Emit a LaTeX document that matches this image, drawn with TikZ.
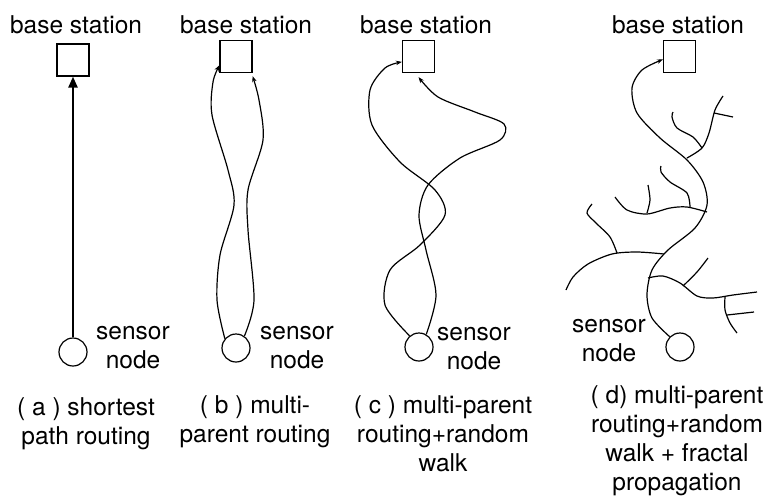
\documentclass[tikz,border=0pt]{standalone}
\usepackage{fontspec}
\setmainfont{TeX Gyre Heros}
\usepackage{tikz}
\usetikzlibrary{arrows.meta,calc}
\tikzset{
  station/.style={
    draw,
    line width=1.2pt,
    minimum size=32pt,
    inner sep=0pt
  },
  sensor/.style={
    draw,
    circle,
    line width=1.2pt,
    minimum size=28pt,
    inner sep=0pt
  },
  label/.style={
    align=center,
    inner sep=0pt,
    font=\fontsize{24.5}{29}\selectfont
  },
  arrow/.style={
    -{Stealth[length=6pt,width=4.5pt]},
    line width=1.2pt
  },
  bold arrow/.style={
    -{Triangle[length=11pt,width=9pt]},
    line width=2.4pt
  },
  branch/.style={
    line width=1.2pt
  }
}
\begin{document}
\begin{tikzpicture}[x=1pt,y=-1pt]
\useasboundingbox (0,0) rectangle (768,499);
% base stations
\node[label,anchor=base] (ta) at (76,33) {base station};
\node[label,anchor=base] (tb) at (246,33) {base station};
\node[label,anchor=base] (tc) at (426,33) {base station};
\node[label,anchor=base] (td) at (678,33) {base station};
\node[station] (bsa) at (73,60) {};
\node[station] (bsb) at (236,56.5) {};
\node[station] (bsc) at (418.5,56.5) {};
\node[station] (bsd) at (679.5,56.5) {};
% sensor nodes
\node[sensor] (sna) at (73,352) {};
\node[sensor] (snb) at (236,348) {};
\node[sensor] (snc) at (419,347) {};
\node[sensor] (snd) at (680,347) {};
\node[label] (la) at (133,348) {sensor\\node};
\node[label] (lb) at (297,348) {sensor\\node};
\node[label] (lc) at (474,349) {sensor\\node};
\node[label] (ld) at (609,341) {sensor\\node};
% captions
\node[label] (ca) at (86,424) {( a ) shortest\\path routing};
\node[label] (cb) at (255,422) {( b ) multi-\\parent routing};
\node[label] (cc) at (443,433.5) {( c ) multi-parent\\routing+random\\walk};
\node[label] (cd) at (677,441) {( d) multi-parent\\routing+random\\walk + fractal\\propagation};
% (a)
\draw[bold arrow] (sna) -- (bsa);
% (b)
\draw[arrow] plot[smooth] coordinates {(snb.140) (217,300) (220,255) (234,205) (228,170) (212,115) (213,82) (bsb.208)};
\draw[arrow] plot[smooth] coordinates {(snb.55) (254,300) (248,230) (248,190) (263,140) (259,100) ([yshift=-3pt]bsb.south east)};
% (c)
\draw[arrow] plot[smooth] coordinates {(snc.130) (385,305) (390,270) (420,245) (445,215) (435,190) (400,162) (372,125) (370,90) (385,68) (bsc.198)};
\draw[arrow] plot[smooth] coordinates {(snc.60) (436,295) (426,250) (419,215) (428,185) (460,158) (500,140) (504,124) (475,112) (438,97) ([yshift=-4pt]bsc.south)};
% (d)
\draw[arrow] plot[smooth] coordinates {(snd.135) (652,318) (647,295) (652,270) (668,250) (695,228) (707,205) (703,182) (687,160) (660,138) (637,113) (632,88) (642,70) (bsd.190)};
\draw[branch] plot[smooth] coordinates {(687,158) (702,148) (709,133) (715,110) (723,96)};
\draw[branch] plot[smooth] coordinates {(714,113) (733,117)};
\draw[branch] plot[smooth] coordinates {(702,148) (693,137) (677,128) (672,117) (673,112)};
\draw[branch] plot[smooth] coordinates {(707,212) (687,207) (670,208) (647,214) (627,210) (615,197)};
\draw[branch] plot[smooth] coordinates {(690,207) (687,193) (670,182) (661,172) (661,166)};
\draw[branch] plot[smooth] coordinates {(647,213) (650,200) (648,185)};
\draw[branch] plot[smooth] coordinates {(664,254) (637,252) (612,254) (588,264) (573,277) (566,290)};
\draw[branch] plot[smooth] coordinates {(617,253) (610,237) (596,223) (587,213) (592,204)};
\draw[branch] plot[smooth] coordinates {(648,278) (663,276) (680,283) (697,296) (713,298) (733,295) (757,292)};
\draw[branch] plot[smooth] coordinates {(683,286) (697,272) (708,258)};
\draw[branch] plot[smooth] coordinates {(725,297) (725,310) (730,323) (737,333)};
\draw[branch] plot[smooth] coordinates {(727,315) (754,312)};
\end{tikzpicture}
\end{document}
